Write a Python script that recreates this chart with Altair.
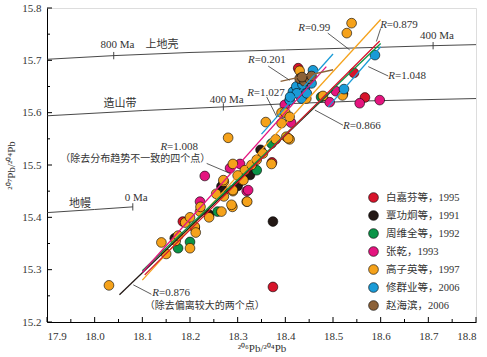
import altair as alt
import pandas as pd

FONT = "Liberation Serif, Noto Sans CJK SC"

SERIES = ["白嘉芬等，1995", "覃功炯等，1991", "周维全等，1992", "张乾，1993",
          "高子英等，1997", "修群业等，2006", "赵海滨，2006"]
COLORS = ["#d7142b", "#231815", "#0a9447", "#e4147f", "#f5a21b", "#1a9bd7", "#8c6239"]

# ---- data points (206Pb/204Pb, 207Pb/204Pb) ----
bai_x = [18.374, 18.372, 18.427, 18.544, 18.567, 18.185]
bai_y = [15.267, 15.505, 15.685, 15.676, 15.629, 15.392]

qin_x = [18.168, 18.24, 18.266, 18.27, 18.326, 18.348, 18.521, 18.374, 18.21, 18.30]
qin_y = [15.36, 15.405, 15.459, 15.45, 15.481, 15.529, 15.636, 15.392, 15.38, 15.46]

zhou_x = [18.175, 18.2, 18.258, 18.371, 18.475, 18.34]
zhou_y = [15.341, 15.353, 15.411, 15.541, 15.63, 15.49]

zhang_x = [18.221, 18.231, 18.319, 18.305, 18.284, 18.399, 18.412, 18.506, 18.493, 18.556, 18.598, 18.322]
zhang_y = [15.43, 15.479, 15.45, 15.502, 15.494, 15.615, 15.581, 15.641, 15.62, 15.618, 15.624, 15.452]

gao_x = [18.03, 18.14, 18.15, 18.17, 18.2, 18.19, 18.2, 18.21, 18.212, 18.221, 18.222, 18.24,
         18.266, 18.289, 18.29, 18.271, 18.271, 18.31, 18.319, 18.28, 18.359, 18.392, 18.4,
         18.402, 18.409, 18.38, 18.353, 18.371, 18.29, 18.315, 18.329, 18.312, 18.27, 18.29,
         18.287, 18.43, 18.444, 18.479, 18.52, 18.539, 18.529, 18.32, 18.409, 18.392, 18.406,
         18.175, 18.255, 18.30, 18.34]
gao_y = [15.27, 15.352, 15.33, 15.355, 15.341, 15.39, 15.40, 15.382, 15.371, 15.411, 15.42, 15.40,
         15.411, 15.42, 15.45, 15.44, 15.468, 15.471, 15.43, 15.552, 15.582, 15.60, 15.60,
         15.554, 15.549, 15.549, 15.522, 15.502, 15.502, 15.49, 15.50, 15.471, 15.471, 15.452,
         15.424, 15.68, 15.627, 15.632, 15.633, 15.771, 15.752, 15.43, 15.592, 15.58, 15.551,
         15.365, 15.445, 15.48, 15.51]

xiu_x = [18.458, 18.441, 18.416, 18.434, 18.409, 18.423, 18.445, 18.455, 18.588, 18.523, 18.436, 18.424, 18.41]
xiu_y = [15.681, 15.647, 15.64, 15.627, 15.624, 15.65, 15.637, 15.656, 15.71, 15.645, 15.654, 15.637, 15.63]

zhao_x = [18.43, 18.44, 18.45, 18.455, 18.435]
zhao_y = [15.665, 15.66, 15.665, 15.67, 15.668]

# ---- regression lines (endpoints) ----
reg_color = ["#f5a21b", "#231815", "#0a9447", "#d7142b", "#e4147f", "#1a9bd7", "#1a9bd7", "#8c6239"]
reg_x0 = [18.10, 18.052, 18.10, 18.105, 18.10, 18.35, 18.49, 18.39]
reg_y0 = [15.280, 15.252, 15.298, 15.290, 15.295, 15.559, 15.611, 15.660]
reg_x1 = [18.60, 18.50, 18.60, 18.598, 18.486, 18.50, 18.60, 18.50]
reg_y1 = [15.778, 15.644, 15.732, 15.737, 15.688, 15.712, 15.726, 15.682]

# ---- growth curves ----
upper_x = [17.9, 18.04, 18.2, 18.4, 18.6, 18.71, 18.8]
upper_y = [15.702, 15.709, 15.715, 15.72, 15.725, 15.728, 15.73]
orogen_x = [17.9, 18.1, 18.27, 18.4, 18.55, 18.8]
orogen_y = [15.594, 15.604, 15.611, 15.617, 15.622, 15.627]
mantle_x = [17.9, 18.0, 18.08]
mantle_y = [15.409, 15.415, 15.42]

age_tick_x = [18.04, 18.71, 18.27, 18.08]
age_tick_y = [15.709, 15.728, 15.611, 15.42]

curve_label_text = ["800 Ma", "上地壳", "400 Ma", "造山带", "400 Ma", "地幔", "0 Ma"]
curve_label_x = [18.048, 18.141, 18.718, 18.053, 18.277, 17.969, 18.087]
curve_label_y = [15.730, 15.730, 15.747, 15.616, 15.625, 15.426, 15.436]

# ---- slope labels ----
r_values = ["=0.99", "=0.879", "=0.201", "=1.048", "=1.027", "=0.866", "=1.008", "=0.876"]
r_x = [18.441, 18.613, 18.336, 18.630, 18.334, 18.535, 18.152, 18.135]
r_y = [15.762, 15.768, 15.701, 15.670, 15.638, 15.575, 15.534, 15.255]

leader_x0 = [18.489, 18.600, 18.364, 18.616, 18.361, 18.521, 18.235, 18.119]
leader_y0 = [15.752, 15.761, 15.689, 15.670, 15.630, 15.576, 15.503, 15.253]
leader_x1 = [18.535, 18.591, 18.409, 18.574, 18.382, 18.462, 18.284, 18.081]
leader_y1 = [15.720, 15.736, 15.662, 15.688, 15.592, 15.605, 15.484, 15.271]

note_text = ["（除去分布趋势不一致的四个点）", "（除去偏离较大的两个点）"]
note_x = [17.928, 18.105]
note_y = [15.511, 15.230]

x_major = [17.9, 18.0, 18.1, 18.2, 18.3, 18.4, 18.5, 18.6, 18.7, 18.8]
x_minor = [17.95, 18.05, 18.15, 18.25, 18.35, 18.45, 18.55, 18.65, 18.75]
y_major = [15.2, 15.3, 15.4, 15.5, 15.6, 15.7, 15.8]
y_minor = [15.25, 15.35, 15.45, 15.55, 15.65, 15.75]

W, H = 429, 314

# ---- build tables ----
groups = [(SERIES[0], bai_x, bai_y), (SERIES[1], qin_x, qin_y), (SERIES[2], zhou_x, zhou_y),
          (SERIES[3], zhang_x, zhang_y), (SERIES[4], gao_x, gao_y), (SERIES[5], xiu_x, xiu_y),
          (SERIES[6], zhao_x, zhao_y)]
rows = []
for name, xs_, ys_ in groups:
    for a, b in zip(xs_, ys_):
        rows.append({"series": name, "x": a, "y": b})
pts = pd.DataFrame(rows)

reg_rows = []
for i in range(len(reg_color)):
    reg_rows.append({"id": i, "c": reg_color[i], "x": reg_x0[i], "y": reg_y0[i]})
    reg_rows.append({"id": i, "c": reg_color[i], "x": reg_x1[i], "y": reg_y1[i]})
reg = pd.DataFrame(reg_rows)

curve_rows = []
for cid, cx, cy in [("upper", upper_x, upper_y), ("orogen", orogen_x, orogen_y), ("mantle", mantle_x, mantle_y)]:
    for a, b in zip(cx, cy):
        curve_rows.append({"id": cid, "x": a, "y": b})
curves = pd.DataFrame(curve_rows)

ticks = pd.DataFrame({"x": age_tick_x, "y": [v - 0.007 for v in age_tick_y],
                      "y2": [v + 0.007 for v in age_tick_y]})
clabels = pd.DataFrame({"t": curve_label_text, "x": curve_label_x, "y": curve_label_y})
rlab = pd.DataFrame({"t": r_values, "x": r_x, "y": r_y})
leaders = pd.DataFrame({"x": leader_x0, "y": leader_y0, "x2": leader_x1, "y2": leader_y1})
notes = pd.DataFrame({"t": note_text, "x": note_x, "y": note_y})

xs = alt.Scale(domain=[17.9, 18.8], nice=False, zero=False)
ys = alt.Scale(domain=[15.2, 15.8], nice=False, zero=False)
AXSTYLE = dict(tickSize=0, grid=False, labelFont=FONT, labelFontSize=11, labelColor="#333333",
               titleFont=FONT, titleFontSize=11, titleFontWeight="normal", titleColor="#333333",
               domainColor="black", domainWidth=1, format=".1f")
XAX = alt.Axis(values=x_major, labelPadding=8, titlePadding=1, **AXSTYLE)
YAX = alt.Axis(values=y_major, labelPadding=6, titlePadding=5, **AXSTYLE)
X_TITLE = "²⁰⁶Pb/²⁰⁴Pb"
Y_TITLE = "²⁰⁷Pb/²⁰⁴Pb"


def X():
    return alt.X("x:Q", scale=xs, axis=XAX, title=X_TITLE)


def Y():
    return alt.Y("y:Q", scale=ys, axis=YAX, title=Y_TITLE)


curve_layer = alt.Chart(curves).mark_line(color="#333333", strokeWidth=0.9).encode(
    x=X(), y=Y(), detail="id:N")
tick_layer = alt.Chart(ticks).mark_rule(color="#333333", strokeWidth=0.9).encode(
    x=X(), y=Y(), y2="y2:Q")
clabel_layer = alt.Chart(clabels).mark_text(font=FONT, fontSize=11, color="#333333",
                                            baseline="middle").encode(x=X(), y=Y(), text="t:N")

points = alt.Chart(pts).mark_point(filled=True, shape="circle", size=95, stroke="#000000",
                                   strokeWidth=0.6, opacity=1).encode(
    x=X(), y=Y(),
    color=alt.Color("series:N", scale=alt.Scale(domain=SERIES, range=COLORS),
                    legend=alt.Legend(title=None, orient="none", legendX=321, legendY=184,
                                      symbolType="circle", symbolSize=95,
                                      symbolStrokeColor="#000000", symbolStrokeWidth=0.6,
                                      symbolOpacity=1, labelFont=FONT, labelFontSize=10.5,
                                      labelColor="#333333", rowPadding=5, labelOffset=7,
                                      padding=0)),
)

reg_layer = alt.Chart(reg).mark_line(strokeWidth=1.3).encode(
    x=X(), y=Y(), detail="id:N", color=alt.Color("c:N", scale=None))

leader_layer = alt.Chart(leaders).mark_rule(color="#333333", strokeWidth=0.8).encode(
    x=X(), y=Y(), x2="x2:Q", y2="y2:Q")
r_italic = alt.Chart(rlab).mark_text(font=FONT, fontSize=11, fontStyle="italic", color="#333333",
                                     align="right", baseline="middle", text="R").encode(x=X(), y=Y())
r_value = alt.Chart(rlab).mark_text(font=FONT, fontSize=11, color="#333333",
                                    align="left", baseline="middle").encode(x=X(), y=Y(), text="t:N")
note_layer = alt.Chart(notes).mark_text(font=FONT, fontSize=10, color="#333333",
                                        align="left", baseline="middle").encode(x=X(), y=Y(), text="t:N")

xt_major = alt.Chart(pd.DataFrame({"x": x_major})).mark_rule(color="black", strokeWidth=1).encode(
    x=X(), y=alt.value(H), y2=alt.value(H - 5))
xt_minor = alt.Chart(pd.DataFrame({"x": x_minor})).mark_rule(color="black", strokeWidth=1).encode(
    x=X(), y=alt.value(H), y2=alt.value(H - 3))
yt_major = alt.Chart(pd.DataFrame({"y": y_major})).mark_rule(color="black", strokeWidth=1).encode(
    y=Y(), x=alt.value(0), x2=alt.value(5))
yt_minor = alt.Chart(pd.DataFrame({"y": y_minor})).mark_rule(color="black", strokeWidth=1).encode(
    y=Y(), x=alt.value(0), x2=alt.value(3))

chart = alt.layer(
    curve_layer, tick_layer, clabel_layer, points, reg_layer,
    leader_layer, r_italic, r_value, note_layer, xt_major, xt_minor, yt_major, yt_minor
).properties(
    width=W, height=H,
    autosize=alt.AutoSizeParams(type="none"),
    padding={"left": 47, "top": 8, "right": 11, "bottom": 35},
).configure_view(
    stroke="black", strokeWidth=1
).configure(background="white")

chart.save("out.html", embed_options={"renderer": "svg", "actions": False})
